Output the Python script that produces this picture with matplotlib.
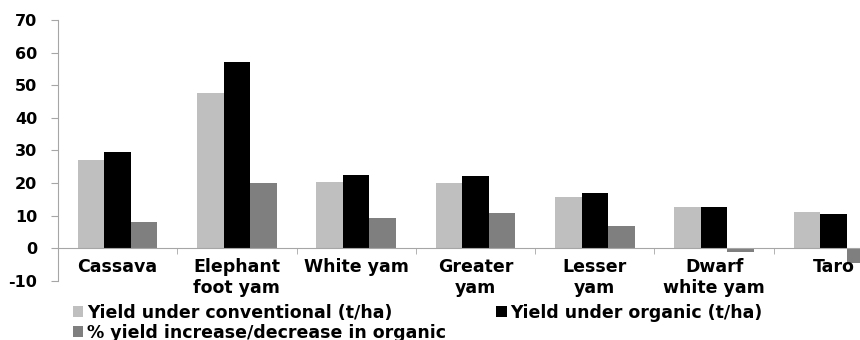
import numpy as np
import matplotlib
matplotlib.use('Agg')
import matplotlib.pyplot as plt

# crops and yields
crops = ['Cassava', 'Elephant\nfoot yam', 'White yam', 'Greater\nyam', 'Lesser\nyam', 'Dwarf\nwhite yam', 'Taro']
conventional = [27.2, 47.5, 20.3, 20.0, 15.7, 12.6, 11.0]
organic = [29.4, 57.1, 22.4, 22.1, 16.9, 12.6, 10.6]
pct_change = [8.0, 20.0, 9.3, 10.7, 6.9, -1.2, -4.4]

plt.rcParams['font.family'] = 'DejaVu Sans'
plt.rcParams['font.weight'] = 'bold'
plt.rcParams['axes.unicode_minus'] = False

fig = plt.figure(figsize=(8.6, 3.4), dpi=100)
# axes runs past the right edge, like the cropped original
ax = fig.add_axes([58/860, 1-281/340, (893-58)/860, (281-20)/340])

x = np.arange(len(crops))
w = 0.222
ax.bar(x - w, conventional, w, color='#bfbfbf', label='Yield under conventional (t/ha)')
ax.bar(x, organic, w, color='#000000', label='Yield under organic (t/ha)')
ax.bar(x + w, pct_change, w, color='#7f7f7f', label='% yield increase/decrease in organic')

ax.set_xlim(-0.5, len(crops) - 0.5)
ax.set_ylim(-10, 70)
ax.set_yticks(range(-10, 71, 10))
ax.set_xticks(x)
ax.set_xticklabels(crops, fontweight='bold', linespacing=0.95)
ax.set_xticks(np.arange(len(crops) + 1) - 0.5, minor=True)
ax.tick_params(axis='x', which='major', length=0, pad=7, labelsize=12.5)
ax.tick_params(axis='x', which='minor', length=4, color='#a6a6a6', direction='out')
ax.tick_params(axis='y', length=5, color='#a6a6a6', pad=10, labelsize=11.5)

ax.spines['top'].set_visible(False)
ax.spines['right'].set_visible(False)
ax.spines['bottom'].set_position(('data', 0))
ax.spines['bottom'].set_color('#a6a6a6')
ax.spines['left'].set_color('#a6a6a6')

h, l = ax.get_legend_handles_labels()
fig.legend([h[0], h[2], h[1]], [l[0], l[2], l[1]], ncol=2, frameon=False,
           loc='upper left', bbox_to_anchor=(73/860, 1-304/340), borderaxespad=0, borderpad=0,
           handlelength=0.6, handleheight=0.6, handletextpad=0.2,
           labelspacing=0.1, columnspacing=2.9, prop={'weight': 'bold', 'size': 12.5})

fig.savefig('out.png', dpi=100)
